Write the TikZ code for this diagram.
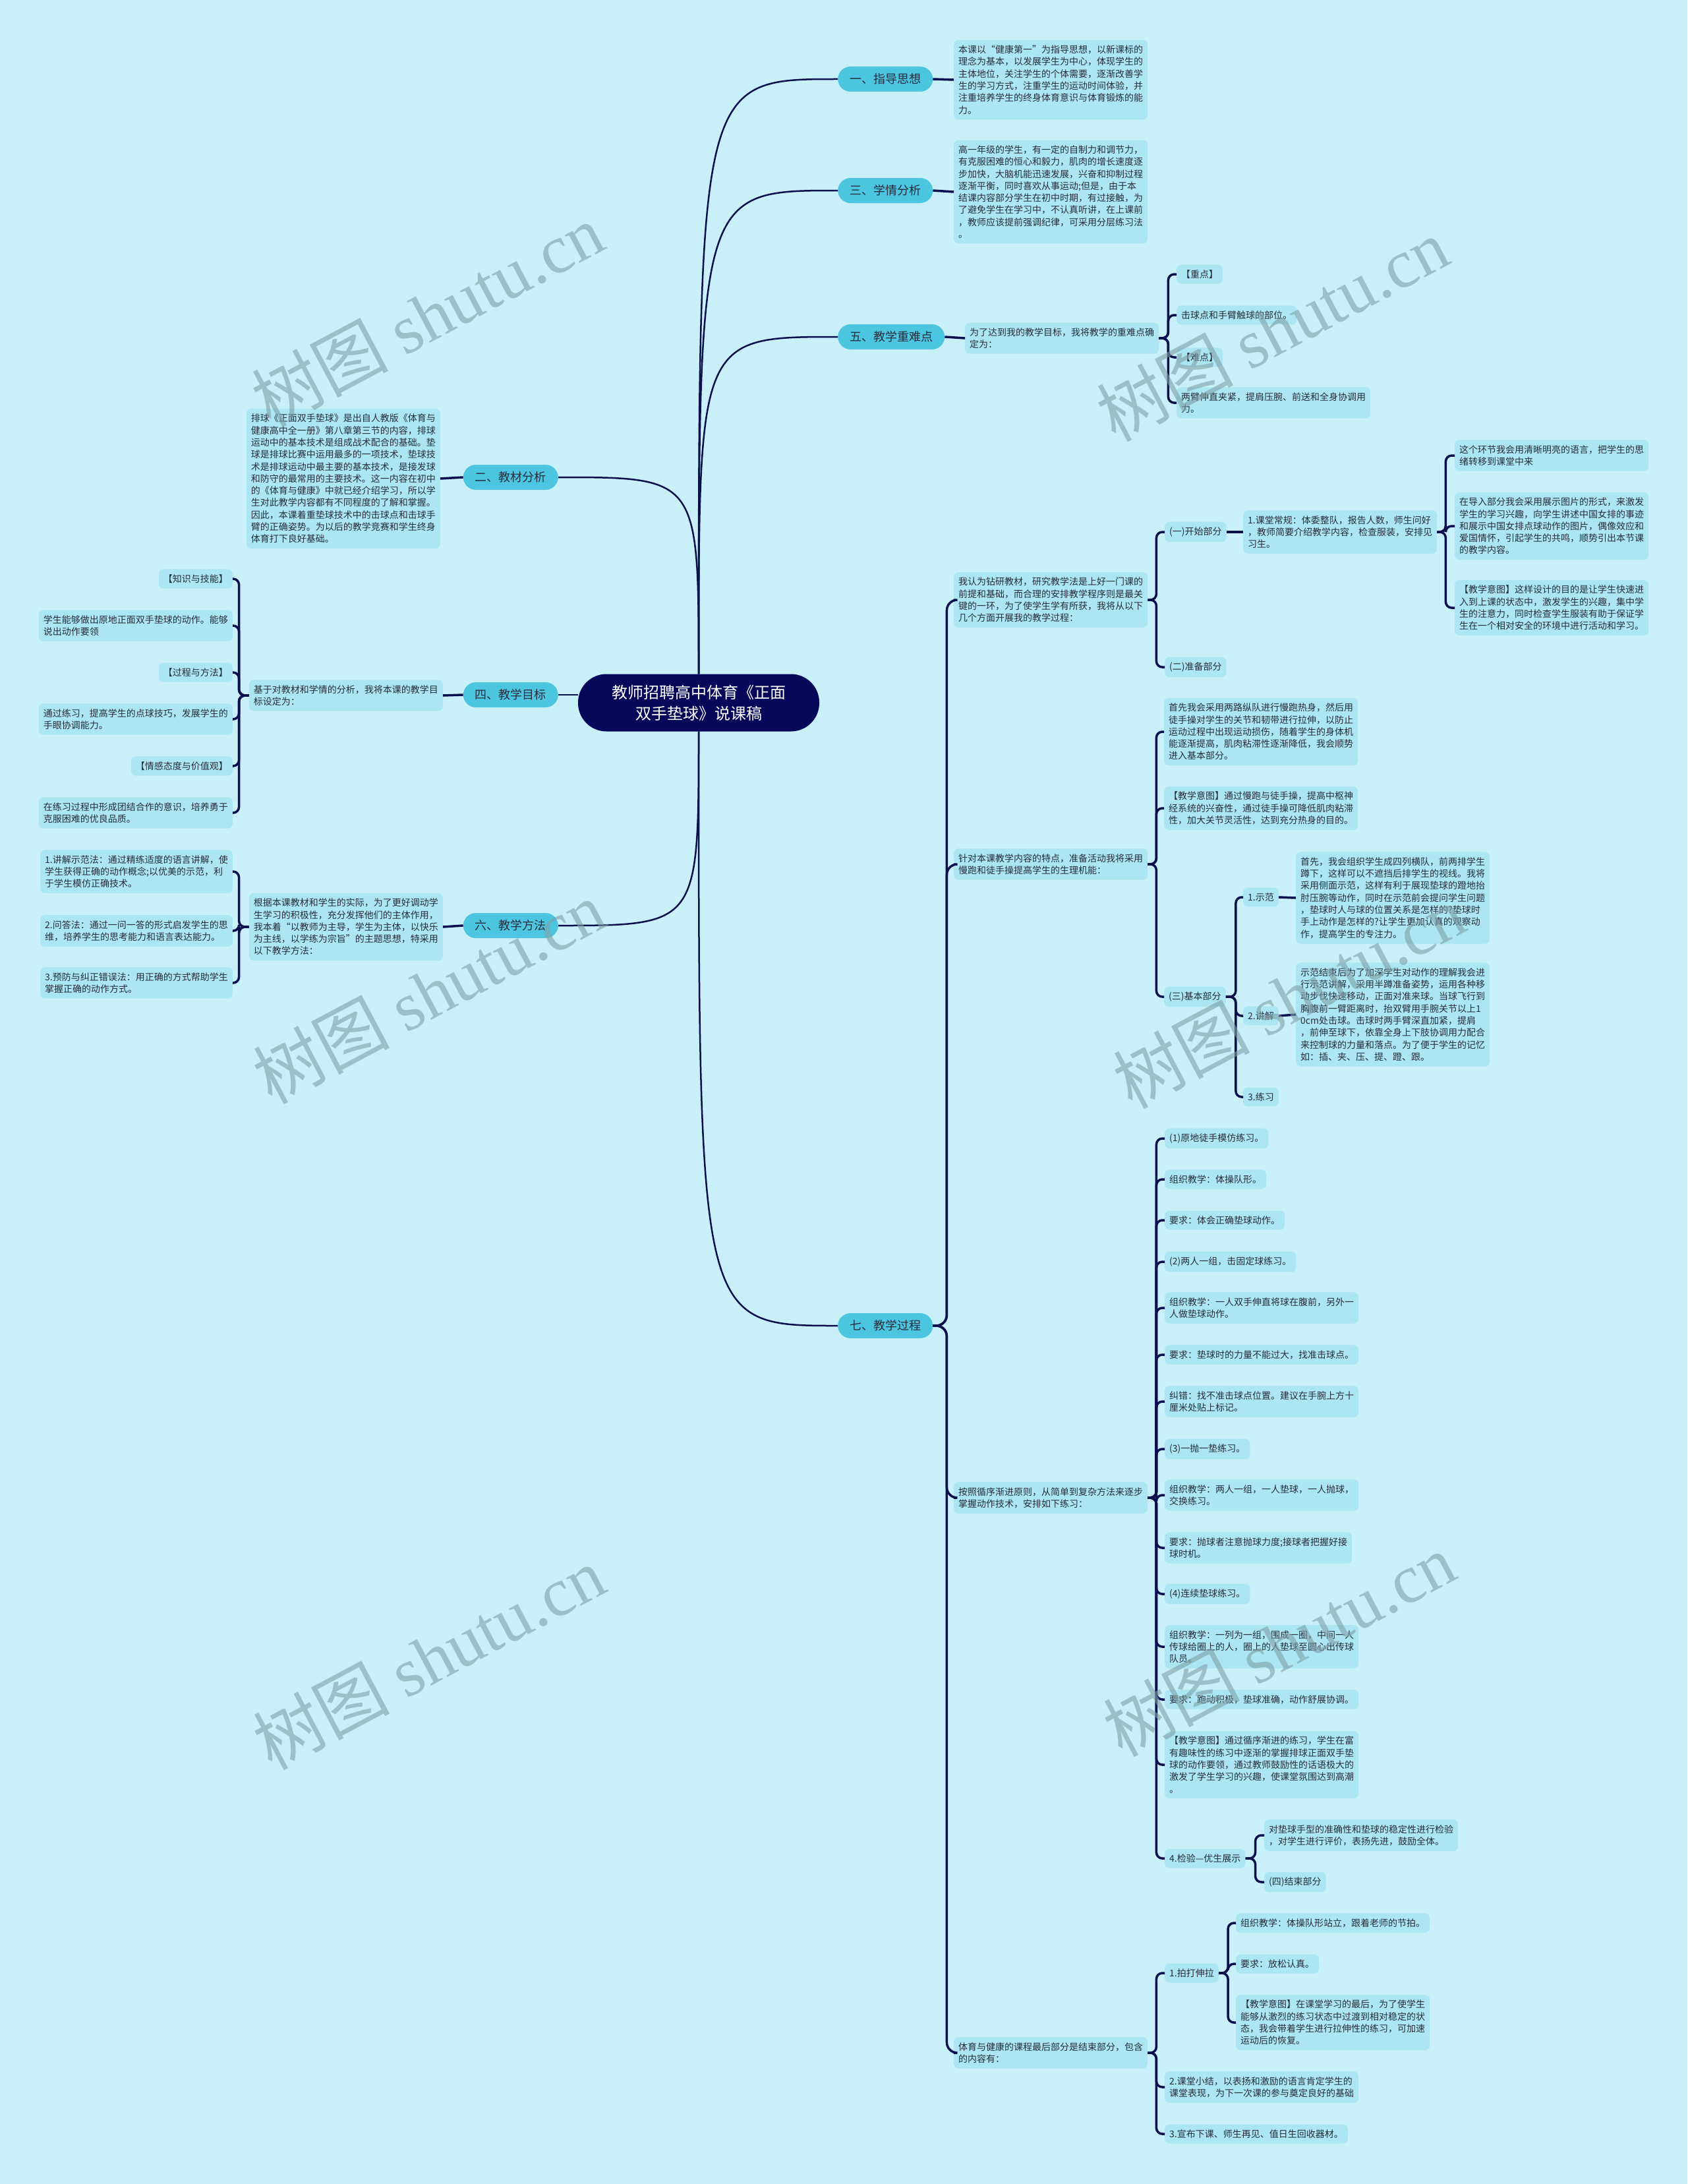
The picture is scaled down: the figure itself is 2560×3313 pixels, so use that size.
\documentclass[tikz,border=0pt]{standalone}
\usepackage{fontspec}
\setmainfont{Noto Sans CJK SC}
\newfontfamily\wmserif{Liberation Serif}
\usetikzlibrary{calc}
\definecolor{bgc}{RGB}{201,240,248}
\definecolor{boxc}{RGB}{172,229,243}
\definecolor{lvc}{RGB}{76,197,224}
\definecolor{rootc}{RGB}{6,8,90}
\definecolor{linec}{RGB}{12,16,78}
\definecolor{txtc}{RGB}{40,45,60}
\definecolor{wmc}{RGB}{128,160,166}
\tikzset{
  txt/.style={rectangle, rounded corners=7, fill=boxc, text=txtc, font=\fontsize{14}{18.3}\selectfont, inner xsep=7, inner ysep=8, align=left},
  lvl/.style={rectangle, rounded corners=19, fill=lvc, text=txtc, font=\fontsize{18}{22}\selectfont, minimum height=38, inner xsep=18},
  rootn/.style={rectangle, rounded corners=43, fill=rootc, text=white, font=\fontsize{24}{32}\selectfont, minimum width=366, minimum height=87, align=center},
  conn/.style={draw=linec, line width=2.5},
  brk/.style={draw=linec, line width=3.5, rounded corners=9},
  wm/.style={text=wmc, opacity=0.6, rotate=28, font=\fontsize{104}{110}\selectfont}
}
\begin{document}
\begin{tikzpicture}[x=1pt,y=-1pt]
\fill[bgc] (0,0) rectangle (2560,3313);
\useasboundingbox (0,0) rectangle (2560,3313);

% root
\node[rootn] (root) at (1060,1066) {教师招聘高中体育《正面\\双手垫球》说课稿};

% level 1
\node[lvl, anchor=west] (n1) at (1271,120) {一、指导思想};
\node[lvl, anchor=west] (n3) at (1271,289) {三、学情分析};
\node[lvl, anchor=west] (n5) at (1271,511) {五、教学重难点};
\node[lvl, anchor=west] (n7) at (1271,2011) {七、教学过程};
\node[lvl, anchor=east] (n2) at (847,724) {二、教材分析};
\node[lvl, anchor=east] (n4) at (847,1054) {四、教学目标};
\node[lvl, anchor=east] (n6) at (847,1404) {六、教学方法};

% root connectors
\draw[conn] (root.north) .. controls (root.north |- n1.west) .. (n1.west);
\draw[conn] (root.north) .. controls (root.north |- n3.west) .. (n3.west);
\draw[conn] (root.north) .. controls (root.north |- n5.west) .. (n5.west);
\draw[conn] (root.north) .. controls (root.north |- n2.east) .. (n2.east);
\draw[conn] (root.south) .. controls (root.south |- n7.west) .. (n7.west);
\draw[conn] (root.south) .. controls (root.south |- n6.east) .. (n6.east);
\draw[conn] (n4.east) -- (n4.east -| root.west);

% 一
\node[txt, anchor=west] (t1) at (1447,121) {本课以“健康第一”为指导思想，以新课标的\\理念为基本，以发展学生为中心，体现学生的\\主体地位，关注学生的个体需要，逐渐改善学\\生的学习方式，注重学生的运动时间体验，并\\注重培养学生的终身体育意识与体育锻炼的能\\力。};
\draw[brk] (n1.east) -- (t1.west);

% 三
\node[txt, anchor=west] (t3) at (1447,291) {高一年级的学生，有一定的自制力和调节力，\\有克服困难的恒心和毅力，肌肉的增长速度逐\\步加快，大脑机能迅速发展，兴奋和抑制过程\\逐渐平衡，同时喜欢从事运动;但是，由于本\\结课内容部分学生在初中时期，有过接触，为\\了避免学生在学习中，不认真听讲，在上课前\\，教师应该提前强调纪律，可采用分层练习法\\。};
\draw[brk] (n3.east) -- (t3.west);

% 五
\node[txt, anchor=west] (t5) at (1464,513) {为了达到我的教学目标，我将教学的重难点确\\定为：};
\draw[brk] (n5.east) -- (t5.west);
\node[txt, anchor=west] (c5a) at (1785,416) {【重点】};
\node[txt, anchor=west] (c5b) at (1785,478) {击球点和手臂触球的部位。};
\node[txt, anchor=west] (c5c) at (1785,542) {【难点】};
\node[txt, anchor=west] (c5d) at (1785,611) {两臂伸直夹紧，提肩压腕、前送和全身协调用\\力。};
\foreach \c in {c5a,c5b,c5c,c5d} \draw[brk] (t5.east) -- ++(14,0) |- (\c.west);

% 二
\node[txt, anchor=east] (t2) at (668,726) {排球《正面双手垫球》是出自人教版《体育与\\健康高中全一册》第八章第三节的内容，排球\\运动中的基本技术是组成战术配合的基础。垫\\球是排球比赛中运用最多的一项技术，垫球技\\术是排球运动中最主要的基本技术，是接发球\\和防守的最常用的主要技术。这一内容在初中\\的《体育与健康》中就已经介绍学习，所以学\\生对此教学内容都有不同程度的了解和掌握。\\因此，本课着重垫球技术中的击球点和击球手\\臂的正确姿势。为以后的教学竞赛和学生终身\\体育打下良好基础。};
\draw[brk] (n2.west) -- (t2.east);

% 四
\node[txt, anchor=east] (t4) at (672,1055) {基于对教材和学情的分析，我将本课的教学目\\标设定为：};
\draw[brk] (n4.west) -- (t4.east);
\node[txt, anchor=east] (k1) at (353,878) {【知识与技能】};
\node[txt, anchor=east] (k2) at (353,949) {学生能够做出原地正面双手垫球的动作。能够\\说出动作要领};
\node[txt, anchor=east] (k3) at (353,1020) {【过程与方法】};
\node[txt, anchor=east] (k4) at (353,1091) {通过练习，提高学生的点球技巧，发展学生的\\手眼协调能力。};
\node[txt, anchor=east] (k5) at (353,1162) {【情感态度与价值观】};
\node[txt, anchor=east] (k6) at (353,1233) {在练习过程中形成团结合作的意识，培养勇于\\克服困难的优良品质。};
\foreach \c in {k1,k2,k3,k4,k5,k6} \draw[brk] (t4.west) -- ++(-15,0) |- (\c.east);

% 六
\node[txt, anchor=east] (t6) at (672,1406) {根据本课教材和学生的实际，为了更好调动学\\生学习的积极性，充分发挥他们的主体作用，\\我本着“以教师为主导，学生为主体，以快乐\\为主线，以学练为宗旨”的主题思想，特采用\\以下教学方法：};
\draw[brk] (n6.west) -- (t6.east);
\node[txt, anchor=east] (m1) at (353,1322) {1.讲解示范法：通过精练适度的语言讲解，使\\学生获得正确的动作概念;以优美的示范，利\\于学生模仿正确技术。};
\node[txt, anchor=east] (m2) at (353,1412) {2.问答法：通过一问一答的形式启发学生的思\\维，培养学生的思考能力和语言表达能力。};
\node[txt, anchor=east] (m3) at (353,1491) {3.预防与纠正错误法：用正确的方式帮助学生\\掌握正确的动作方式。};
\foreach \c in {m1,m2,m3} \draw[brk] (t6.west) -- ++(-15,0) |- (\c.east);

% 七
\node[txt, anchor=west] (t7a) at (1447,910) {我认为钻研教材，研究教学法是上好一门课的\\前提和基础，而合理的安排教学程序则是最关\\键的一环，为了使学生学有所获，我将从以下\\几个方面开展我的教学过程：};
\node[txt, anchor=west] (t7b) at (1447,1311) {针对本课教学内容的特点，准备活动我将采用\\慢跑和徒手操提高学生的生理机能：};
\node[txt, anchor=west] (t7c) at (1447,2272) {按照循序渐进原则，从简单到复杂方法来逐步\\掌握动作技术，安排如下练习：};
\node[txt, anchor=west] (t7d) at (1447,3114) {体育与健康的课程最后部分是结束部分，包含\\的内容有：};
\foreach \c in {t7a,t7b,t7c,t7d} \draw[brk, rounded corners=16] (n7.east) -- ++(21,0) |- (\c.west);

% 七-a
\node[txt, anchor=west] (a1) at (1767,807) {(一)开始部分};
\node[txt, anchor=west] (a2) at (1767,1012) {(二)准备部分};
\foreach \c in {a1,a2} \draw[brk] (t7a.east) -- ++(13,0) |- (\c.west);
\node[txt, anchor=west] (a11) at (1886,807) {1.课堂常规：体委整队，报告人数，师生问好\\，教师简要介绍教学内容，检查服装，安排见\\习生。};
\draw[brk] (a1.east) -- (a11.west);
\node[txt, anchor=west] (a111) at (2207,691) {这个环节我会用清晰明亮的语言，把学生的思\\绪转移到课堂中来};
\node[txt, anchor=west] (a112) at (2207,798) {在导入部分我会采用展示图片的形式，来激发\\学生的学习兴趣，向学生讲述中国女排的事迹\\和展示中国女排点球动作的图片，偶像效应和\\爱国情怀，引起学生的共鸣，顺势引出本节课\\的教学内容。};
\node[txt, anchor=west] (a113) at (2207,922) {【教学意图】这样设计的目的是让学生快速进\\入到上课的状态中，激发学生的兴趣，集中学\\生的注意力，同时检查学生服装有助于保证学\\生在一个相对安全的环境中进行活动和学习。};
\foreach \c in {a111,a112,a113} \draw[brk] (a11.east) -- ++(13,0) |- (\c.west);

% 七-b
\node[txt, anchor=west] (b1) at (1766,1110) {首先我会采用两路纵队进行慢跑热身，然后用\\徒手操对学生的关节和韧带进行拉伸，以防止\\运动过程中出现运动损伤，随着学生的身体机\\能逐渐提高，肌肉粘滞性逐渐降低，我会顺势\\进入基本部分。};
\node[txt, anchor=west] (b2) at (1766,1226) {【教学意图】通过慢跑与徒手操，提高中枢神\\经系统的兴奋性，通过徒手操可降低肌肉粘滞\\性，加大关节灵活性，达到充分热身的目的。};
\node[txt, anchor=west] (b3) at (1766,1512) {(三)基本部分};
\foreach \c in {b1,b2,b3} \draw[brk] (t7b.east) -- ++(13,0) |- (\c.west);
\node[txt, anchor=west] (b31) at (1886,1361) {1.示范};
\node[txt, anchor=west] (b32) at (1886,1541) {2.讲解};
\node[txt, anchor=west] (b33) at (1886,1664) {3.练习};
\foreach \c in {b31,b32,b33} \draw[brk] (b3.east) -- ++(15,0) |- (\c.west);
\node[txt, anchor=west] (b311) at (1966,1362) {首先，我会组织学生成四列横队，前两排学生\\蹲下，这样可以不遮挡后排学生的视线。我将\\采用侧面示范，这样有利于展现垫球的蹬地抬\\肘压腕等动作，同时在示范前会提问学生问题\\，垫球时人与球的位置关系是怎样的?垫球时\\手上动作是怎样的?让学生更加认真的观察动\\作，提高学生的专注力。};
\draw[brk] (b31.east) -- (b311.west);
\node[txt, anchor=west] (b321) at (1966,1539) {示范结束后为了加深学生对动作的理解我会进\\行示范讲解，采用半蹲准备姿势，运用各种移\\动步伐快速移动，正面对准来球。当球飞行到\\胸腹前一臂距离时，抬双臂用手腕关节以上1\\0cm处击球。击球时两手臂深直加紧，提肩\\，前伸至球下，依靠全身上下肢协调用力配合\\来控制球的力量和落点。为了便于学生的记忆\\如：插、夹、压、提、蹬、跟。};
\draw[brk] (b32.east) -- (b321.west);

% 七-c
\node[txt, anchor=west] (c1) at (1767,1727) {(1)原地徒手模仿练习。};
\node[txt, anchor=west] (c2) at (1767,1789) {组织教学：体操队形。};
\node[txt, anchor=west] (c3) at (1767,1851) {要求：体会正确垫球动作。};
\node[txt, anchor=west] (c4) at (1767,1914) {(2)两人一组，击固定球练习。};
\node[txt, anchor=west] (c5) at (1767,1984) {组织教学：一人双手伸直将球在腹前，另外一\\人做垫球动作。};
\node[txt, anchor=west] (c6) at (1767,2055) {要求：垫球时的力量不能过大，找准击球点。};
\node[txt, anchor=west] (c7) at (1767,2126) {纠错：找不准击球点位置。建议在手腕上方十\\厘米处贴上标记。};
\node[txt, anchor=west] (c8) at (1767,2198) {(3)一抛一垫练习。};
\node[txt, anchor=west] (c9) at (1767,2268) {组织教学：两人一组，一人垫球，一人抛球，\\交换练习。};
\node[txt, anchor=west] (c10) at (1767,2348) {要求：抛球者注意抛球力度;接球者把握好接\\球时机。};
\node[txt, anchor=west] (c11) at (1767,2418) {(4)连续垫球练习。};
\node[txt, anchor=west] (c12) at (1767,2498) {组织教学：一列为一组，围成一圈，中间一人\\传球给圈上的人，圈上的人垫球至圆心出传球\\队员。};
\node[txt, anchor=west] (c13) at (1767,2578) {要求：跑动积极，垫球准确，动作舒展协调。};
\node[txt, anchor=west] (c14) at (1767,2677) {【教学意图】通过循序渐进的练习，学生在富\\有趣味性的练习中逐渐的掌握排球正面双手垫\\球的动作要领，通过教师鼓励性的话语极大的\\激发了学生学习的兴趣，使课堂氛围达到高潮\\。};
\node[txt, anchor=west] (c15) at (1767,2819) {4.检验—优生展示};
\foreach \c in {c1,c2,c3,c4,c5,c6,c7,c8,c9,c10,c11,c12,c13,c14,c15} \draw[brk] (t7c.east) -- ++(13,0) |- (\c.west);
\node[txt, anchor=west] (c151) at (1918,2784) {对垫球手型的准确性和垫球的稳定性进行检验\\，对学生进行评价，表扬先进，鼓励全体。};
\node[txt, anchor=west] (c152) at (1918,2855) {(四)结束部分};
\foreach \c in {c151,c152} \draw[brk] (c15.east) -- ++(15,0) |- (\c.west);

% 七-d
\node[txt, anchor=west] (d1) at (1767,2993) {1.拍打伸拉};
\node[txt, anchor=west] (d2) at (1767,3166) {2.课堂小结，以表扬和激励的语言肯定学生的\\课堂表现，为下一次课的参与奠定良好的基础};
\node[txt, anchor=west] (d3) at (1767,3237) {3.宣布下课、师生再见、值日生回收器材。};
\foreach \c in {d1,d2,d3} \draw[brk] (t7d.east) -- ++(13,0) |- (\c.west);
\node[txt, anchor=west] (d11) at (1875,2917) {组织教学：体操队形站立，跟着老师的节拍。};
\node[txt, anchor=west] (d12) at (1875,2979) {要求：放松认真。};
\node[txt, anchor=west] (d13) at (1875,3068) {【教学意图】在课堂学习的最后，为了使学生\\能够从激烈的练习状态中过渡到相对稳定的状\\态，我会带着学生进行拉伸性的练习，可加速\\运动后的恢复。};
\foreach \c in {d11,d12,d13} \draw[brk] (d1.east) -- ++(14,0) |- (\c.west);

% watermarks
\node[wm] (w1) at (648,478) {树图 {\wmserif shutu.cn}};
\node[wm] (w2) at (1930,500) {树图 {\wmserif shutu.cn}};
\node[wm] (w3) at (650,1505) {树图 {\wmserif shutu.cn}};
\node[wm] (w4) at (1955,1512) {树图 {\wmserif shutu.cn}};
\node[wm] (w5) at (650,2515) {树图 {\wmserif shutu.cn}};
\node[wm] (w6) at (1940,2495) {树图 {\wmserif shutu.cn}};
\end{tikzpicture}
\end{document}
